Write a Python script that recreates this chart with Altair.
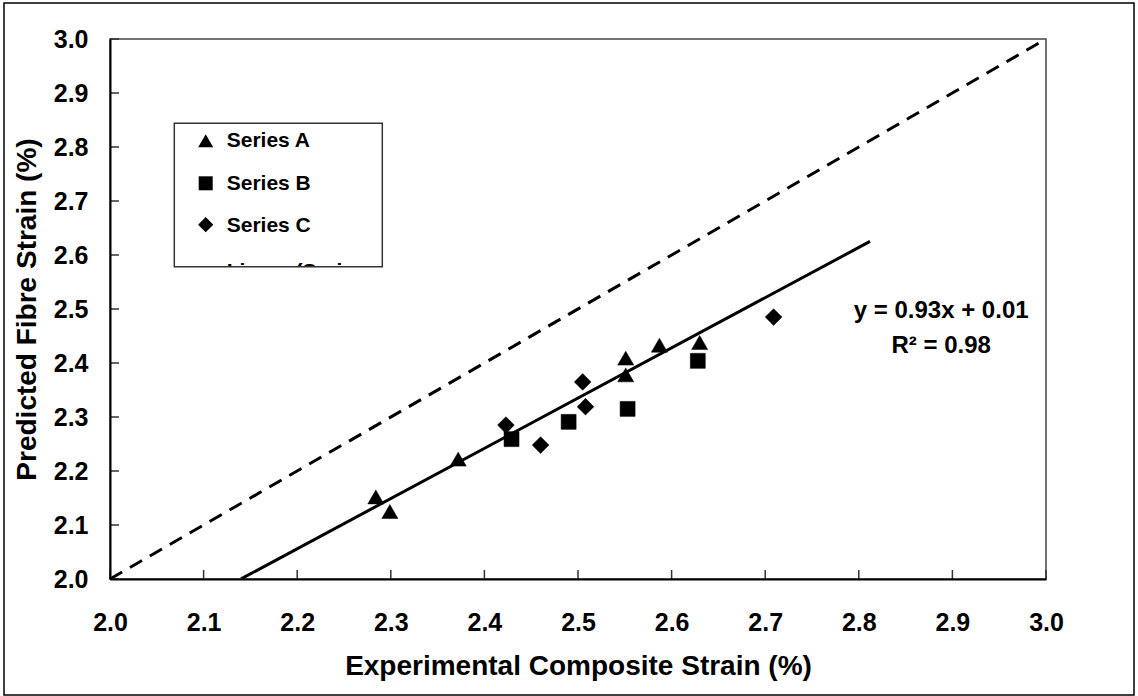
import altair as alt
import pandas as pd

# ---- data ----
series_names = ["Series A", "Series B", "Series C"]
series_shapes = ["triangle-up", "square", "diamond"]
series_sizes = [260, 225, 280]

a_x = [2.284, 2.299, 2.372, 2.551, 2.551, 2.587, 2.630]
a_y = [2.152, 2.125, 2.222, 2.409, 2.378, 2.433, 2.438]
b_x = [2.429, 2.490, 2.553, 2.628]
b_y = [2.259, 2.291, 2.315, 2.404]
c_x = [2.423, 2.460, 2.505, 2.508, 2.709]
c_y = [2.285, 2.248, 2.365, 2.319, 2.485]

fit_slope = 0.93
fit_intercept = 0.01
fit_x = [2.14, 2.812]
ident_x = [2.0, 3.0]

ticks = [2.0, 2.1, 2.2, 2.3, 2.4, 2.5, 2.6, 2.7, 2.8, 2.9, 3.0]

eq_text = ["y = 0.93x + 0.01", "R² = 0.98"]
eq_x = [2.888, 2.888]
eq_y = [2.483, 2.419]

x_title = "Experimental Composite Strain (%)"
y_title = "Predicted Fibre Strain (%)"

FONT = "Liberation Sans"
W, H = 936, 540

xs = alt.Scale(domain=[2.0, 3.0], nice=False, zero=False)
ys = alt.Scale(domain=[2.0, 3.0], nice=False, zero=False)

x_axis = alt.Axis(
    title=x_title, values=ticks, format=".1f", grid=False, ticks=False, tickSize=0,
    labelPadding=31, labelFontSize=25, labelFont=FONT, labelFontWeight="bold",
    labelColor="black", domainColor="black", domainWidth=2, zindex=1,
    titleFontSize=28, titleFont=FONT, titleFontWeight="bold", titleColor="black",
    titleBaseline="alphabetic", titleY=95, titleX=W / 2, titleAlign="center",
    labelFlush=False)
y_axis = alt.Axis(
    title=y_title, values=ticks, format=".1f", grid=False, ticks=False, tickSize=0,
    labelPadding=22, labelFontSize=25, labelFont=FONT, labelFontWeight="bold",
    labelColor="black", domainColor="black", domainWidth=2, zindex=1,
    titleFontSize=28, titleFont=FONT, titleFontWeight="bold", titleColor="black",
    titleAngle=270, titleBaseline="alphabetic", titleX=-75, titleY=H / 2,
    titleAlign="center", labelFlush=False)


def X(field):
    return alt.X(field, scale=xs, axis=x_axis)


def Y(field):
    return alt.Y(field, scale=ys, axis=y_axis)


# ---- border of the whole chart ----
outer = alt.Chart(pd.DataFrame({"a": [0]})).mark_rect(
    fill="white", fillOpacity=0, stroke="black", strokeWidth=1.5
).encode(x=alt.value(-106), x2=alt.value(1024), y=alt.value(-36), y2=alt.value(656))

ident_df = pd.DataFrame({"x": ident_x, "y": ident_x})
ident = alt.Chart(ident_df).mark_line(
    color="black", strokeWidth=3, strokeDash=[14, 9]
).encode(x=X("x:Q"), y=Y("y:Q"))

fit_df = pd.DataFrame({"x": fit_x, "y": [fit_slope * v + fit_intercept for v in fit_x]})
fit = alt.Chart(fit_df).mark_line(color="black", strokeWidth=3).encode(
    x=X("x:Q"), y=Y("y:Q")
)

tick_df = pd.DataFrame({"x": ticks, "y": ticks})
xticks = alt.Chart(tick_df).mark_rule(color="#333", strokeWidth=1.5).encode(
    x=X("x:Q"), y=alt.value(H), y2=alt.value(H - 9)
)
yticks = alt.Chart(tick_df).mark_rule(color="#333", strokeWidth=1.5).encode(
    y=Y("y:Q"), x=alt.value(0), x2=alt.value(9)
)

layers = [outer, ident, fit, xticks, yticks]

for name, shp, sz, xv, yv in zip(series_names, series_shapes, series_sizes,
                                 [a_x, b_x, c_x], [a_y, b_y, c_y]):
    df = pd.DataFrame({"x": xv, "y": yv, "series": name})
    layers.append(
        alt.Chart(df).mark_point(shape=shp, size=sz, filled=True, fill="black",
                                 stroke="black", strokeWidth=0.5, opacity=1).encode(
            x=X("x:Q"), y=Y("y:Q")
        )
    )

eq_df = pd.DataFrame({"x": eq_x, "y": eq_y, "t": eq_text})
layers.append(
    alt.Chart(eq_df).mark_text(font=FONT, fontSize=24, fontWeight="bold", color="black",
                               align="center", baseline="alphabetic").encode(
        x=X("x:Q"), y=Y("y:Q"), text="t:N"
    )
)

# ---- legend box (drawn manually, last entry clipped as in the reference) ----
one = pd.DataFrame({"a": [0]})
LX0, LX1, LY0, LY1 = 64.3, 272.3, 84.3, 227.7
layers.append(alt.Chart(one).mark_rect(fill="white").encode(
    x=alt.value(LX0), x2=alt.value(LX1), y=alt.value(LY0), y2=alt.value(LY1)))
row_sym_y = [101.8, 144.3, 185.7]
row_txt_y = [108.3, 150.6, 192.9]
leg_sizes = [225, 196, 230]
for name, shp, sz, sy, ty in zip(series_names, series_shapes, leg_sizes, row_sym_y, row_txt_y):
    layers.append(alt.Chart(one).mark_point(shape=shp, size=sz, filled=True, fill="black",
                                            opacity=1).encode(
        x=alt.value(95.7), y=alt.value(sy)))
    layers.append(alt.Chart(one).mark_text(font=FONT, fontSize=21, fontWeight="bold",
                                           color="black", align="left",
                                           baseline="alphabetic").encode(
        x=alt.value(116.7), y=alt.value(ty), text=alt.value(name)))
layers.append(alt.Chart(one).mark_text(font=FONT, fontSize=21, fontWeight="bold",
                                       color="black", align="left",
                                       baseline="alphabetic").encode(
    x=alt.value(116.7), y=alt.value(238.7), text=alt.value("Linear (Series")))
layers.append(alt.Chart(one).mark_rect(fill="white").encode(
    x=alt.value(LX0 - 2), x2=alt.value(LX1 + 2), y=alt.value(LY1), y2=alt.value(LY1 + 20)))
layers.append(alt.Chart(one).mark_rect(fill="white", fillOpacity=0, stroke="#333",
                                       strokeWidth=1.5).encode(
    x=alt.value(LX0), x2=alt.value(LX1), y=alt.value(LY0), y2=alt.value(LY1)))

chart = alt.layer(*layers).properties(
    width=W, height=H,
    autosize=alt.AutoSizeParams(type="none"),
    padding={"left": 110, "top": 39, "right": 92, "bottom": 117},
    background="white",
).configure_view(stroke="#444", strokeWidth=1.5)

chart.save("out.html", embed_options={"renderer": "svg", "actions": False})
